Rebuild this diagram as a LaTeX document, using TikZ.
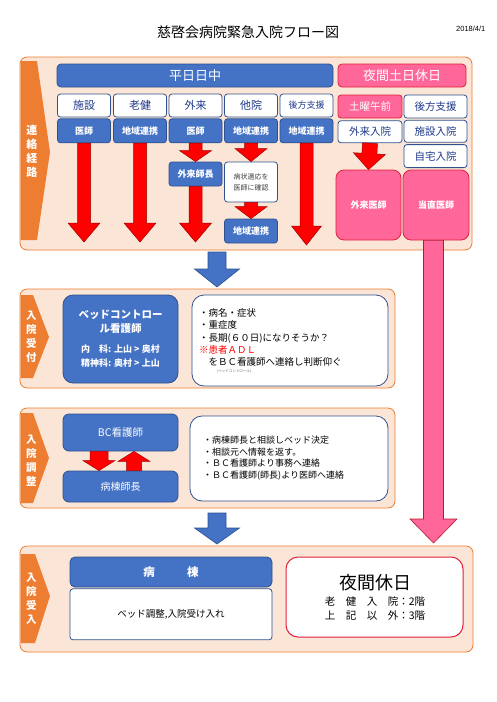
\documentclass[tikz,border=0pt]{standalone}
\usepackage{fontspec}
\setmainfont{Noto Sans CJK JP}
\newfontfamily\datefont{Liberation Sans}
\usetikzlibrary{calc,positioning}

\definecolor{bandorange}{HTML}{ED7D31}
\definecolor{bandfill}{HTML}{FBE5D6}
\definecolor{boxblue}{HTML}{4472C4}
\definecolor{boxline}{HTML}{2F528F}
\definecolor{boxtext}{HTML}{1F3A8A}
\definecolor{nightpink}{HTML}{FF6699}
\definecolor{nightline}{HTML}{E0203C}
\definecolor{arrowred}{HTML}{FF0000}
\definecolor{arrowline}{HTML}{A00000}

% fat arrow: [style]{from}{to}{shaft half}{head half}{head length}
\newcommand\blockarrow[6][red arrow]{%
  \coordinate (ba-s) at (#2);
  \coordinate (ba-e) at (#3);
  \coordinate (ba-h) at ($(ba-e)!#6!(ba-s)$);
  \draw[#1] ($(ba-s)!#4!90:(ba-e)$) -- ($(ba-h)!#4!-90:(ba-s)$)
    -- ($(ba-h)!#5!-90:(ba-s)$) -- (ba-e)
    -- ($(ba-h)!#5!90:(ba-s)$) -- ($(ba-h)!#4!90:(ba-s)$)
    -- ($(ba-s)!#4!-90:(ba-e)$) -- cycle;
}
\newcommand\smallline{\fontsize{9}{13}\selectfont}

\begin{document}
\begin{tikzpicture}[x=1pt, y=-1pt, inner sep=0pt,
    box size/.style 2 args={minimum width=#1, minimum height=#2},
    band/.style={draw=bandorange, fill=bandfill, line width=0.8pt, rounded corners=7pt},
    tab/.style={fill=bandorange},
    tab text/.style={text=white, align=center, font=\fontsize{10.5}{14}\selectfont\bfseries},
    blue box/.style={draw=boxline, fill=boxblue, text=white, line width=0.8pt,
      rounded corners=3pt, font=\fontsize{9}{11}\selectfont\bfseries},
    white box/.style={draw=boxline, fill=white, text=boxtext, line width=0.8pt,
      rounded corners=3pt, font=\fontsize{11}{13}\selectfont},
    pink box/.style={draw=nightline, fill=nightpink, text=white, line width=0.8pt,
      rounded corners=3pt, font=\fontsize{9}{11}\selectfont\bfseries},
    red arrow/.style={draw=arrowline, fill=arrowred, line width=0.5pt},
    blue arrow/.style={draw=boxline, fill=boxblue, line width=0.6pt},
    pink arrow/.style={draw=nightline!80!black, fill=nightpink, line width=0.6pt}]

  \useasboundingbox[fill=white] (0,0) rectangle (496,702);

  \node[font=\fontsize{14}{16}\selectfont] (title) at (248,32) {慈啓会病院緊急入院フロー図};
  \node[anchor=west, font=\datefont\fontsize{7.5}{9}\selectfont] (date) at (456,29) {2018/4/1};

  % contact route
  \node[band, box size={452}{193}] (band1) at (246,153.5) {};
  \fill[tab] (20.5,61) -- (37,61) -- (50,152) -- (37,240) -- (20.5,240) -- cycle;
  \node[tab text, font=\fontsize{11}{14}\selectfont\bfseries] (tab1) at (32,151) {連\\絡\\経\\路};

  \node[blue box, box size={276}{23}, rounded corners=4pt, font=\fontsize{13}{15}\selectfont] (day) at (195,75.5) {平日日中};
  \node[pink box, box size={128}{23}, rounded corners=4pt, font=\fontsize{13}{15}\selectfont] (night) at (402,75.5) {夜間土日休日};

  \node[white box, box size={53}{23}] (shisetsu) at (84,105.5) {施設};
  \node[white box, box size={53}{23}] (roken) at (140,105.5) {老健};
  \node[white box, box size={53}{23}] (gairai) at (195.5,105.5) {外来};
  \node[white box, box size={53}{23}] (tain) at (251,105.5) {他院};
  \node[white box, box size={53}{23}, font=\fontsize{9}{11}\selectfont] (kohou) at (306.5,105.5) {後方支援};

  \node[blue box, box size={53}{24}, below=1pt of shisetsu] (shisetsu-dr) {医師};
  \node[blue box, box size={53}{24}, below=1pt of roken] (roken-rk) {地域連携};
  \node[blue box, box size={53}{24}, below=1pt of gairai] (gairai-dr) {医師};
  \node[blue box, box size={53}{24}, below=1pt of tain] (tain-rk) {地域連携};
  \node[blue box, box size={53}{24}, below=1pt of kohou] (kohou-rk) {地域連携};

  \node[blue box, box size={53}{24}] (gairai-shicho) at (195.5,174) {外来師長};
  \node[white box, box size={53}{40}, align=center, text=black!75,
    font=\fontsize{7}{11}\selectfont] (kakunin) at (251,182) {病状適応を\\医師に確認};
  \node[blue box, box size={53}{24}] (tain-rk2) at (251,231) {地域連携};

  \node[pink box, box size={64}{23}, font=\fontsize{10.5}{12}\selectfont] (doyo) at (370,106.5) {土曜午前};
  \node[white box, box size={64}{22}, font=\fontsize{10.5}{12}\selectfont, below=2pt of doyo] (gairai-nyuin) {外来入院};
  \node[white box, box size={63}{23}, font=\fontsize{10.5}{12}\selectfont] (kohou-n) at (435.5,106.5) {後方支援};
  \node[white box, box size={63}{22}, font=\fontsize{10.5}{12}\selectfont, below=1.5pt of kohou-n] (shisetsu-n) {施設入院};
  \node[white box, box size={63}{23}, font=\fontsize{10.5}{12}\selectfont, below=1.5pt of shisetsu-n] (jitaku) {自宅入院};
  \node[pink box, box size={65}{70}, rounded corners=8pt] (gairai-dr-n) at (368.5,205) {外来医師};
  \node[pink box, box size={66}{70}, rounded corners=8pt] (touchoku) at (436,205) {当直医師};

  \coordinate (shisetsu-end) at (84,242);
  \coordinate (roken-end) at (140,242);
  \coordinate (gairai-end) at (195.5,242);
  \coordinate (kohou-end) at (306.5,245);

  \blockarrow{shisetsu-dr.south}{shisetsu-end}{6.5pt}{16pt}{19pt}
  \blockarrow{roken-rk.south}{roken-end}{6.5pt}{16pt}{19pt}
  \blockarrow{gairai-dr.south}{gairai-shicho.north}{6.5pt}{16pt}{11pt}
  \blockarrow{gairai-shicho.south}{gairai-end}{6.5pt}{16pt}{19pt}
  \blockarrow{tain-rk.south}{kakunin.north}{6.5pt}{16pt}{13pt}
  \blockarrow{kakunin.south}{tain-rk2.north}{6.5pt}{16pt}{12pt}
  \blockarrow{kohou-rk.south}{kohou-end}{6.5pt}{15pt}{19pt}
  \blockarrow{gairai-nyuin.south}{gairai-dr-n.north}{7.5pt}{16pt}{16pt}

  % admission reception
  \node[band, box size={375}{99}] (band2) at (207.5,338.5) {};
  \fill[tab] (20.5,295) -- (33,295) -- (49,337) -- (33,378) -- (20.5,378) -- cycle;
  \node[tab text] (tab2) at (31.5,337) {入\\院\\受\\付};

  \node[blue box, box size={115}{88}, rounded corners=10pt, align=center,
    font=\fontsize{10.5}{14}\selectfont\bfseries] (bc-nurse) at (120.5,339)
    {ベッドコントロー\\ル看護師\\[6pt]\smallline 内　科: 上山 > 奥村\\\smallline 精神科: 奥村 > 上山};
  \node[white box, box size={196}{91}, rounded corners=12pt] (check1) at (290,340.5) {};
  \node[anchor=west, align=left, font=\fontsize{9.5}{12.3}\selectfont] (check1-text) at (199,337.5)
    {・病名・症状\\・重症度\\・長期(６０日)になりそうか？\\\textcolor{red}{※患者ＡＤＬ}\\　をＢＣ看護師へ連絡し判断仰ぐ};
  \node[anchor=west, text=black!60, font=\fontsize{3.5}{4}\selectfont] (check1-note) at (217,371) {(ベッドコントロール)};

  % admission adjustment
  \node[band, box size={375}{100}] (band3) at (207.5,458) {};
  \fill[tab] (20.5,413) -- (33,413) -- (49,458) -- (33,503) -- (20.5,503) -- cycle;
  \node[tab text] (tab3) at (31.5,461) {入\\院\\調\\整};

  \node[blue box, box size={115}{37}, rounded corners=6pt, font=\fontsize{10.5}{12}\selectfont] (bc) at (120.5,432.5) {BC看護師};
  \node[blue box, box size={115}{31}, rounded corners=6pt, font=\fontsize{10}{12}\selectfont] (ward-head) at (120.5,486.5) {病棟師長};
  \node[white box, box size={198}{85}, rounded corners=12pt] (check2) at (289,458.5) {};
  \node[anchor=west, align=left, font=\fontsize{9}{11.8}\selectfont] (check2-text) at (203,458)
    {・病棟師長と相談しベッド決定\\・相談元へ情報を返す。\\・ＢＣ看護師より事務へ連絡\\・ＢＣ看護師(師長)より医師へ連絡};

  \blockarrow{[xshift=-21.5pt]bc.south}{[xshift=-21.5pt]ward-head.north}{9pt}{16pt}{10pt}
  \blockarrow{[xshift=13.5pt]ward-head.north}{[xshift=13.5pt]bc.south}{7.5pt}{16pt}{10pt}

  % admission acceptance
  \node[band, box size={453}{106}] (band4) at (246.5,599) {};
  \fill[tab] (20.5,554) -- (35,554) -- (50,596) -- (35,643) -- (20.5,643) -- cycle;
  \node[tab text] (tab4) at (31.5,599) {入\\院\\受\\入};

  \node[blue box, box size={202}{30}, rounded corners=5pt, font=\fontsize{11.5}{13}\selectfont\bfseries] (ward) at (171,572) {病\hspace{2.8em}棟};
  \node[white box, box size={202}{51}, text=black, font=\fontsize{9.5}{12}\selectfont, below=1pt of ward] (ward-body) {ベッド調整,入院受け入れ};
  \node[white box, draw=nightline, line width=1pt, box size={177}{80}, rounded corners=12pt] (yakan) at (374.5,597) {};
  \node[font=\fontsize{18}{20}\selectfont] (yakan-title) at (375,583) {夜間休日};
  \node[align=left, font=\fontsize{10.5}{14}\selectfont] (yakan-floor) at (375,609) {老　健　入　院：2階\\上　記　以　外：3階};

  % flow between stages
  \coordinate (flow1-s) at (217,252);
  \coordinate (flow1-e) at (217,287);
  \coordinate (flow2-s) at (217,513);
  \coordinate (flow2-e) at (217,544);
  \coordinate (night-e) at (433.5,543);
  \blockarrow[blue arrow]{flow1-s}{flow1-e}{9pt}{22.5pt}{18pt}
  \blockarrow[blue arrow]{flow2-s}{flow2-e}{9pt}{22.5pt}{16pt}
  \blockarrow[pink arrow]{[xshift=-2.5pt]touchoku.south}{night-e}{10pt}{23.5pt}{24pt}
\end{tikzpicture}
\end{document}
